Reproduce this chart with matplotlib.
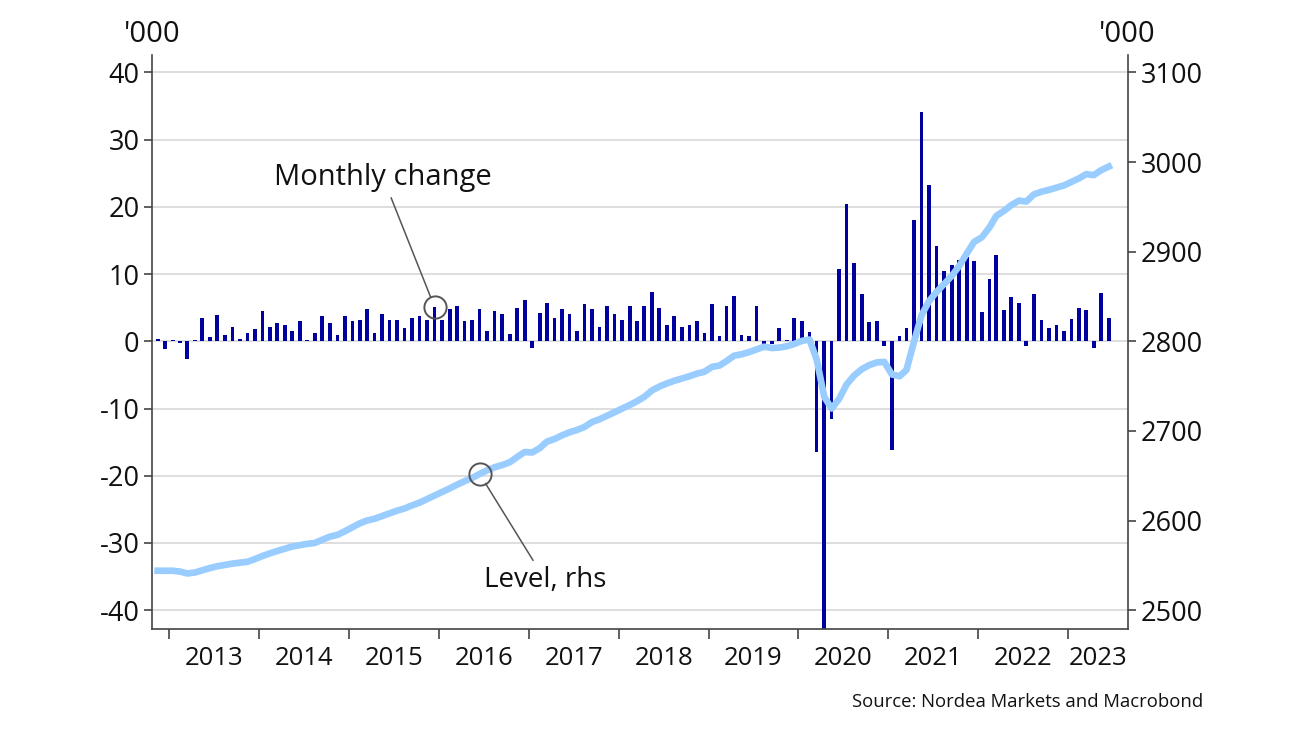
import matplotlib
matplotlib.use('Agg')
import matplotlib.pyplot as plt
import pandas as pd

# ---------------- data (thousands) ----------------
first_month = '2012-11-01'

monthly_change = [
    0.35, -1.1,                                                   # 2012 Nov-Dec
    0.2, -0.2, -2.7, 0.15, 3.4, 0.65, 3.9, 1.0, 2.1, 0.3, 1.3, 1.9,   # 2013
    4.45, 2.2, 2.7, 2.5, 1.6, 3.0, 0.25, 1.3, 3.7, 2.7, 1.0, 3.8,     # 2014
    3.0, 3.2, 4.8, 1.3, 4.1, 3.1, 3.1, 2.0, 3.4, 3.8, 3.2, 5.1,       # 2015
    3.1, 4.85, 5.2, 3.0, 3.1, 4.85, 1.5, 4.5, 4.1, 1.1, 5.0, 6.1,     # 2016
    -1.0, 4.25, 5.7, 3.4, 4.85, 4.0, 1.6, 5.5, 4.85, 2.1, 5.2, 4.0,   # 2017
    3.2, 5.2, 3.0, 5.2, 7.3, 4.95, 2.5, 3.75, 2.2, 2.5, 3.0, 1.2,     # 2018
    5.5, 0.75, 5.2, 6.7, 0.9, 0.75, 5.2, -0.45, -0.45, 2.0, 0.25, 3.5,  # 2019
    3.0, 1.4, -16.5, -45.0, -11.6, 10.7, 20.5, 11.7, 7.0, 2.9, 3.0, -0.75,  # 2020
    -16.1, 0.8, 2.0, 18.1, 34.1, 23.3, 14.2, 10.4, 11.3, 12.1, 12.6, 12.0,  # 2021
    4.3, 9.2, 12.8, 4.6, 6.6, 5.7, -0.7, 7.0, 3.1, 2.0, 2.5, 1.5,     # 2022
    3.3, 4.9, 4.6, -1.0, 7.2, 3.4,                                    # 2023 Jan-Jun
]

level = [
    2544, 2544,                                                       # 2012 Nov-Dec
    2544, 2543, 2541, 2542, 2544.5, 2547, 2549, 2550.5, 2552, 2553, 2554, 2557,   # 2013
    2560.5, 2563.5, 2566, 2568.5, 2571, 2572.5, 2574, 2575, 2578.5, 2582, 2584, 2588,  # 2014
    2592.5, 2597, 2600, 2602, 2605, 2608, 2611, 2613.5, 2617, 2620, 2624, 2628,  # 2015
    2632, 2636, 2640, 2644, 2647.5, 2652, 2656, 2659.5, 2662, 2665, 2671, 2676.5,  # 2016
    2676, 2681, 2688, 2691, 2695, 2698.5, 2701, 2704.5, 2710, 2713, 2717, 2721,  # 2017
    2725, 2729, 2733, 2738, 2745, 2749.5, 2753, 2756, 2758.5, 2761, 2764, 2766,  # 2018
    2771.5, 2773, 2778, 2784, 2785.5, 2788, 2791, 2794, 2792.5, 2793, 2794.5, 2797,  # 2019
    2800.5, 2802, 2780, 2738, 2725, 2736, 2752, 2762, 2769, 2773.5, 2776.5, 2777,  # 2020
    2763, 2761, 2768, 2800, 2829, 2845, 2855, 2864, 2873, 2884, 2898, 2911,  # 2021
    2916, 2927, 2940, 2945.5, 2952, 2957, 2956, 2964, 2967, 2969, 2971.5, 2974,  # 2022
    2978, 2982, 2986.5, 2985.5, 2991, 2995,                           # 2023 Jan-Jun
]

years = list(range(2013, 2024))
year_labels = [str(y) for y in years]
left_ticks = [-40, -30, -20, -10, 0, 10, 20, 30, 40]
right_ticks = [2500, 2600, 2700, 2800, 2900, 3000, 3100]

# ---------------- plot ----------------
plt.rcParams['font.family'] = ['Open Sans', 'DejaVu Sans']

BAR = '#0000A0'
LINE = '#99CCFF'
SPINE = '#444444'
GRID = '#D4D4D4'
TXT = '#111111'
FS_X = 18.5
FS_Y = 19.5
FS_ANN = 21

dates = pd.date_range(first_month, periods=len(monthly_change), freq='MS') + pd.Timedelta(days=14)

W, H = 1300, 731
fig = plt.figure(figsize=(13, 7.31), dpi=100)
ax = fig.add_axes([152 / W, 1 - 629 / H, (1128 - 152) / W, (629 - 55) / H])
ax2 = ax.twinx()

ax.bar(dates, monthly_change, width=15, color=BAR, zorder=2)
ax2.plot(dates, level, color=LINE, lw=4.8, solid_joinstyle='round', zorder=3)

lo, hi = -42.8, 42.6
ax.set_ylim(lo, hi)
ax2.set_ylim(2800 + lo * 7.5, 2800 + hi * 7.5)
ax.set_yticks(left_ticks)
ax.set_yticklabels([str(t) for t in left_ticks])
ax2.set_yticks(right_ticks)
ax2.set_yticklabels([str(t) for t in right_ticks])

ax.grid(axis='y', color=GRID, lw=1.1)
ax.set_axisbelow(True)

xmin, xmax = pd.Timestamp('2012-10-23'), pd.Timestamp('2023-09-01')
ax.set_xlim(xmin, xmax)
year_starts = [pd.Timestamp(f'{y}-01-01') for y in years]
ax.set_xticks(year_starts)
ax.set_xticklabels([''] * len(year_starts))
bounds = year_starts + [xmax]
mids = [bounds[i] + (bounds[i + 1] - bounds[i]) / 2 for i in range(len(year_starts))]
ax.set_xticks(mids, minor=True)
ax.set_xticklabels(year_labels, minor=True)

ax.tick_params(axis='x', which='major', length=7, width=1.2, color=SPINE)
ax.tick_params(axis='x', which='minor', length=0, pad=12, labelsize=FS_X, labelcolor=TXT)
ax.tick_params(axis='y', which='major', length=6, width=1.2, color=SPINE, pad=3,
               labelsize=FS_Y, labelcolor=TXT)
ax2.tick_params(axis='y', which='major', length=6, width=1.2, color=SPINE, pad=3,
                labelsize=FS_Y, labelcolor=TXT)

for a in (ax, ax2):
    a.spines['top'].set_visible(False)
ax.spines['right'].set_visible(False)
ax2.spines['left'].set_visible(False)
ax2.spines['bottom'].set_visible(False)
for s in ('left', 'bottom'):
    ax.spines[s].set_color(SPINE)
    ax.spines[s].set_linewidth(1.2)
ax2.spines['right'].set_color(SPINE)
ax2.spines['right'].set_linewidth(1.2)

# annotations
i_bar = 37   # Dec 2015
ax.plot([dates[i_bar]], [monthly_change[i_bar]], marker='o', ms=16, mfc='none',
        mec='#555555', mew=1.4, zorder=5)
ax.annotate('Monthly change', xy=(dates[i_bar], monthly_change[i_bar]),
            xytext=(-37, 93), textcoords='offset points', ha='center', va='center',
            fontsize=FS_ANN, color=TXT,
            arrowprops=dict(arrowstyle='-', color='#555555', lw=1.1, shrinkA=2, shrinkB=8),
            zorder=5)

i_lv = 43    # Jun 2016
ax2.plot([dates[i_lv]], [level[i_lv]], marker='o', ms=16, mfc='none',
         mec='#555555', mew=1.4, zorder=5)
ax2.annotate('Level, rhs', xy=(dates[i_lv], level[i_lv]),
             xytext=(47, -76), textcoords='offset points', ha='center', va='center',
             fontsize=FS_ANN - 1, color=TXT,
             arrowprops=dict(arrowstyle='-', color='#555555', lw=1.1, shrinkA=2, shrinkB=8),
             zorder=5)

fig.text(152 / W, 1 - 34 / H, "'000", ha='center', va='center', fontsize=21, color=TXT)
fig.text(1127 / W, 1 - 34 / H, "'000", ha='center', va='center', fontsize=21, color=TXT)
fig.text(1203 / W, 1 - 702 / H, 'Source: Nordea Markets and Macrobond', ha='right',
         va='center', fontsize=13.3, color=TXT)

fig.savefig('out.png', dpi=100, facecolor='white')
